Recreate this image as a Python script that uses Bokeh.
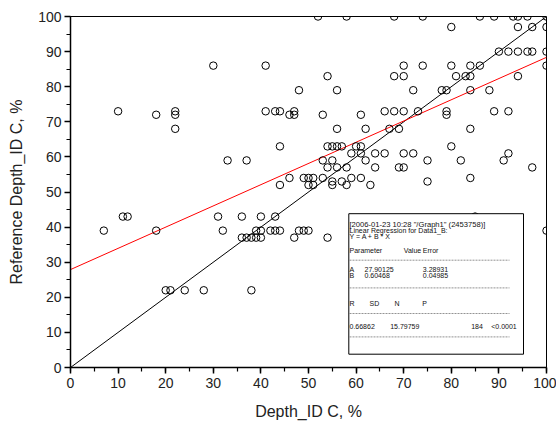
from bokeh.plotting import figure
from bokeh.models import Range1d, SingleIntervalTicker, BoxAnnotation, Label, Arrow
from bokeh.embed import file_html
from bokeh.resources import INLINE

# ---- data ----
depth_id = [
    52, 58, 68, 74, 86, 89, 93, 94, 96, 100,
    80, 94, 97, 100,
    90, 92, 94, 96, 97, 100,
    30, 41, 70, 74, 80, 84, 86, 100,
    54, 68, 70, 81, 83, 84, 94,
    48, 56, 72, 78, 79, 84, 88,
    10, 22, 41, 43, 44, 47, 66, 68, 70, 73, 79, 89, 92,
    18, 22, 46, 47, 53, 61, 79,
    22, 56, 62, 67, 69, 84,
    44, 54, 55, 56, 57, 60, 61, 80,
    59, 61, 64, 66, 70, 72, 92,
    33, 37, 53, 55, 62, 75, 82, 91,
    54, 56, 58, 64, 69, 70, 97,
    46, 49, 50, 51, 53, 59, 61, 84,
    55, 57, 75,
    44, 50, 51, 55, 58, 63,
    11, 12, 31, 36, 40, 43, 85,
    7, 18, 32, 39, 40, 42, 43, 44, 48, 49, 50, 100,
    36, 37, 38, 39, 40, 47, 54,
    20, 21, 24, 28, 38,
]
reference_depth = [
    100, 100, 100, 100, 100, 100, 100, 100, 100, 100,
    97, 97, 97, 97,
    90, 90, 90, 90, 90, 90,
    86, 86, 86, 86, 86, 86, 86, 86,
    83, 83, 83, 83, 83, 83, 83,
    79, 79, 79, 79, 79, 79, 79,
    73, 73, 73, 73, 73, 73, 73, 73, 73, 73, 73, 73, 73,
    72, 72, 72, 72, 72, 72, 72,
    68, 68, 68, 68, 68, 68,
    63, 63, 63, 63, 63, 63, 63, 63,
    61, 61, 61, 61, 61, 61, 61,
    59, 59, 59, 59, 59, 59, 59, 59,
    57, 57, 57, 57, 57, 57, 57,
    54, 54, 54, 54, 54, 54, 54, 54,
    53, 53, 53,
    52, 52, 52, 52, 52, 52,
    43, 43, 43, 43, 43, 43, 43,
    39, 39, 39, 39, 39, 39, 39, 39, 39, 39, 39, 39,
    37, 37, 37, 37, 37, 37, 37,
    22, 22, 22, 22, 22,
]

# regression results
reg_A, reg_A_err = 27.90125, 3.28931
reg_B, reg_B_err = 0.60468, 0.04985
reg_R, reg_SD, reg_N, reg_P = "0.66862", "15.79759", "184", "<0.0001"
header = '[2006-01-23 10:28 "/Graph1" (2453758)]'

line_x = [0, 100]

FONT = "Liberation Sans"
FW, FH = 476, 351
BL, BT, BR, BB = 70, 16, 10, 50

p = figure(width=BL + FW + BR, height=BT + FH + BB,
           frame_width=FW, frame_height=FH,
           min_border_left=BL, min_border_right=BR,
           min_border_top=BT, min_border_bottom=BB,
           x_range=Range1d(0, 100), y_range=Range1d(0, 100),
           output_backend="svg", toolbar_location=None, tools="")

p.xgrid.visible = False
p.ygrid.visible = False
p.outline_line_color = "black"
p.outline_line_width = 1
p.background_fill_color = "white"
p.border_fill_color = "white"

for ax in (p.xaxis[0], p.yaxis[0]):
    ax.ticker = SingleIntervalTicker(interval=10, num_minor_ticks=2)
    ax.major_tick_out = 6
    ax.major_tick_in = 0
    ax.minor_tick_out = 4
    ax.minor_tick_in = 0
    ax.axis_line_width = 1.5
    ax.major_tick_line_width = 1.5
    ax.minor_tick_line_width = 1.2
    ax.axis_line_color = "black"
    ax.major_label_text_font = FONT
    ax.major_label_text_font_size = "14px"
    ax.major_label_text_color = "#222222"
    ax.axis_label_text_font = FONT
    ax.axis_label_text_font_size = "16px"
    ax.axis_label_text_font_style = "normal"
    ax.axis_label_text_color = "#222222"

p.xaxis.axis_label = "Depth_ID C, %"
p.yaxis.axis_label = "Reference Depth_ID C, %"
p.xaxis.major_label_standoff = 4
p.yaxis.major_label_standoff = 3
p.xaxis.axis_label_standoff = 12
p.yaxis.axis_label_standoff = 10

# y = x reference line and regression line
p.line(line_x, line_x, line_color="black", line_width=1)
p.line(line_x, [reg_A + reg_B * v for v in line_x], line_color="red", line_width=1)

p.scatter(depth_id, reference_depth, marker="circle", size=7.5,
          fill_color=None, line_color="black", line_width=1)

# ---- regression text box (reference pixel positions converted to data) ----
X0, Y0 = 71.0, 367.3   # reference frame origin in pixels

def dx(px):
    return (px - X0) / FW * 100

def dy(py):
    return (Y0 - py) / FH * 100

box = BoxAnnotation(left=dx(349.3), right=dx(524), top=dy(213.5), bottom=dy(354),
                    fill_color="white", fill_alpha=1.0,
                    line_color="black", line_width=1, line_alpha=1.0)
p.add_layout(box)

def txt(s, px, py, size="7px"):
    p.add_layout(Label(x=dx(px), y=dy(py), text=s, text_font=FONT,
                       text_font_size=size, text_color="#111111",
                       text_baseline="middle", text_align="left"))

def dash(py):
    p.add_layout(Arrow(x_start=dx(350), y_start=dy(py), x_end=dx(510), y_end=dy(py),
                       end=None, line_color="#777777", line_width=0.8,
                       line_dash="2 1"))

txt(header, 350, 224, "7.6px")
txt("Linear Regression for Data1_B:", 350, 230)
txt("Y = A + B * X", 350, 236)
txt("Parameter", 350, 250.7)
txt("Value", 404.3, 250.7)
txt("Error", 423.3, 250.7)
dash(260)
txt("A", 350, 269.3)
txt(f"{reg_A:.5f}", 365, 269.3)
txt(f"{reg_A_err:.5f}", 423.3, 269.3)
txt("B", 350, 275)
txt(f"{reg_B:.5f}", 365, 275)
txt(f"{reg_B_err:.5f}", 423.3, 275)
dash(287.7)
txt("R", 350, 303.3)
txt("SD", 370, 303.3)
txt("N", 395, 303.3)
txt("P", 422.7, 303.3)
dash(313.3)
txt(reg_R, 350, 326)
txt(reg_SD, 390.7, 326)
txt(reg_N, 471.7, 326)
txt(reg_P, 491.7, 326)
dash(336.7)

open("out.html", "w").write(file_html(p, INLINE))
